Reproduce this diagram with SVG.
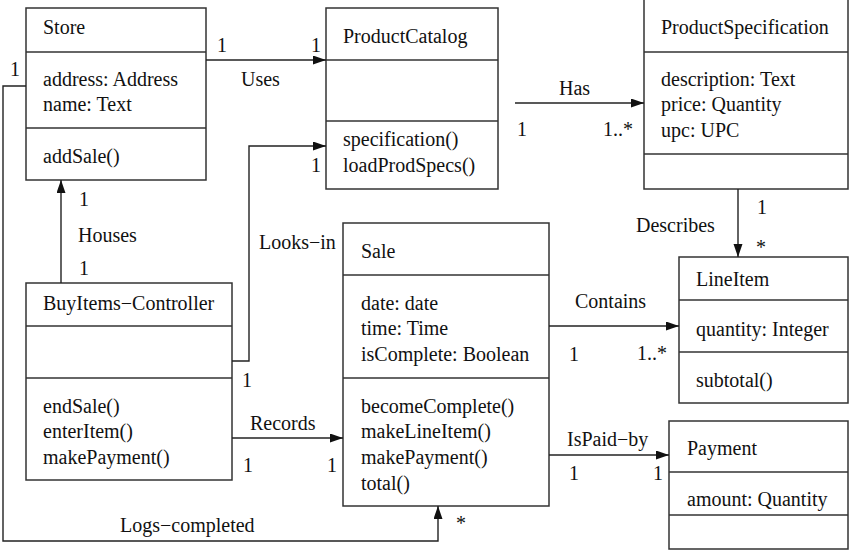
<svg xmlns="http://www.w3.org/2000/svg" width="850" height="550" viewBox="0 0 850 550">
<defs>
<style>
rect.box{fill:#fff;stroke:#333;stroke-width:1.5}
line.div{stroke:#333;stroke-width:1.5}
text{font-family:"Liberation Serif","Times New Roman",serif;font-size:20px;fill:#111}
.conn path,.conn polyline,.conn line{fill:none;stroke:#222;stroke-width:1.4}
</style>
<marker id="arr" markerUnits="userSpaceOnUse" markerWidth="14" markerHeight="10" refX="13" refY="4.5" orient="auto">
<path d="M0,0 L13,4.5 L0,9 z" fill="#111"/>
</marker>
</defs>
<rect width="850" height="550" fill="#fff"/>
<g id="Store">
<rect class="box" x="26" y="8" width="180" height="172"/>
<line class="div" x1="26" y1="52" x2="206" y2="52"/>
<line class="div" x1="26" y1="128" x2="206" y2="128"/>
<text x="43" y="34">Store</text>
<text x="43" y="86">address: Address</text>
<text x="43" y="111">name: Text</text>
<text x="43" y="163">addSale()</text>
</g>

<g id="ProductCatalog">
<rect class="box" x="326" y="8" width="172" height="181"/>
<line class="div" x1="326" y1="60" x2="498" y2="60"/>
<line class="div" x1="326" y1="121" x2="498" y2="121"/>
<text x="343" y="43">ProductCatalog</text>
<text x="343" y="146">specification()</text>
<text x="343" y="172">loadProdSpecs()</text>
</g>

<g id="ProductSpecification">
<rect class="box" x="644" y="-2" width="204" height="191"/>
<line class="div" x1="644" y1="52" x2="848" y2="52"/>
<line class="div" x1="644" y1="154" x2="848" y2="154"/>
<text x="661" y="34">ProductSpecification</text>
<text x="661" y="86">description: Text</text>
<text x="661" y="111">price: Quantity</text>
<text x="661" y="137">upc: UPC</text>
</g>

<g id="BuyItemsController">
<rect class="box" x="26" y="283" width="206" height="197"/>
<line class="div" x1="26" y1="326" x2="232" y2="326"/>
<line class="div" x1="26" y1="378" x2="232" y2="378"/>
<text x="43" y="310">BuyItems−Controller</text>
<text x="43" y="413">endSale()</text>
<text x="43" y="438">enterItem()</text>
<text x="43" y="464">makePayment()</text>
</g>

<g id="Sale">
<rect class="box" x="343" y="223" width="206" height="283"/>
<line class="div" x1="343" y1="275" x2="549" y2="275"/>
<line class="div" x1="343" y1="378" x2="549" y2="378"/>
<text x="361" y="258">Sale</text>
<text x="361" y="310">date: date</text>
<text x="361" y="335">time: Time</text>
<text x="361" y="361">isComplete: Boolean</text>
<text x="361" y="413">becomeComplete()</text>
<text x="361" y="438">makeLineItem()</text>
<text x="361" y="464">makePayment()</text>
<text x="361" y="490">total()</text>
</g>

<g id="LineItem">
<rect class="box" x="679" y="257" width="169" height="146"/>
<line class="div" x1="679" y1="300" x2="848" y2="300"/>
<line class="div" x1="679" y1="352" x2="848" y2="352"/>
<text x="696" y="286">LineItem</text>
<text x="696" y="336">quantity: Integer</text>
<text x="696" y="387">subtotal()</text>
</g>

<g id="Payment">
<rect class="box" x="669" y="421" width="179" height="128"/>
<line class="div" x1="669" y1="472" x2="848" y2="472"/>
<line class="div" x1="669" y1="515" x2="848" y2="515"/>
<text x="687" y="455">Payment</text>
<text x="687" y="506">amount: Quantity</text>
</g>

<g id="connectors" class="conn">
<line x1="206" y1="60" x2="326" y2="60" marker-end="url(#arr)"/>
<line x1="515" y1="103" x2="644" y2="103" marker-end="url(#arr)"/>
<polyline points="232,361 249,361 249,146 326,146" marker-end="url(#arr)"/>
<line x1="61" y1="283" x2="61" y2="180" marker-end="url(#arr)"/>
<line x1="738" y1="189" x2="738" y2="257" marker-end="url(#arr)"/>
<line x1="549" y1="326" x2="679" y2="326" marker-end="url(#arr)"/>
<line x1="232" y1="438" x2="343" y2="438" marker-end="url(#arr)"/>
<line x1="549" y1="455" x2="669" y2="455" marker-end="url(#arr)"/>
<polyline points="26,86 3,86 3,541 438,541 438,506" marker-end="url(#arr)"/>

<g id="labels">
<text x="217" y="52">1</text>
<text x="311" y="52">1</text>
<text x="241" y="86">Uses</text>
<text x="559" y="95">Has</text>
<text x="517" y="136">1</text>
<text x="603" y="136">1..*</text>
<text x="311" y="172">1</text>
<text x="259" y="249">Looks−in</text>
<text x="242" y="387">1</text>
<text x="79" y="206">1</text>
<text x="78" y="242">Houses</text>
<text x="79" y="275">1</text>
<text x="757" y="214">1</text>
<text x="636" y="232">Describes</text>
<text x="756" y="254">*</text>
<text x="575" y="308">Contains</text>
<text x="569" y="361">1</text>
<text x="637" y="360">1..*</text>
<text x="250" y="430">Records</text>
<text x="243" y="472">1</text>
<text x="327" y="472">1</text>
<text x="567" y="446">IsPaid−by</text>
<text x="569" y="480">1</text>
<text x="653" y="480">1</text>
<text x="10" y="76">1</text>
<text x="120" y="532">Logs−completed</text>
<text x="456" y="530">*</text>
</g>
</g>
</svg>
